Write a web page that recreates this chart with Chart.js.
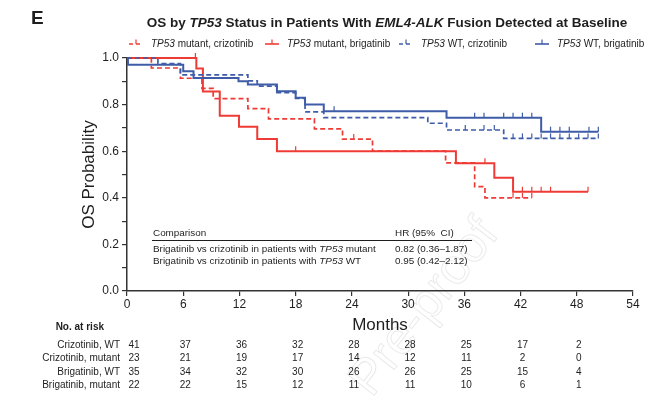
<!DOCTYPE html>
<html>
<head>
<meta charset="utf-8">
<script src="https://cdn.jsdelivr.net/npm/chart.js@4.4.1/dist/chart.umd.min.js"></script>
<style>
  html, body { margin: 0; padding: 0; background: #fff; }
  canvas { display: block; }
</style>
</head>
<body>
<canvas id="km" width="656" height="398"></canvas>
<script>
// KM step data: month of each step and survival after it
const crizWtTimes = [0, 3.3, 5.7, 12.9, 13.9, 16.0, 18.0, 19.0, 21.0, 32.1, 34.1, 40.2, 50.3];
const crizWtSurv  = [1.0, 0.976, 0.928, 0.902, 0.879, 0.851, 0.827, 0.769, 0.744, 0.720, 0.691, 0.655, 0.655];
const crizWtCens  = [36.1, 38.1, 39.2, 41.2, 42.2, 43.2, 44.2, 45.2, 46.2, 47.2, 48.2, 49.2, 50.3];

const brigWtTimes = [0, 0.1, 6.0, 7.1, 11.9, 12.9, 16.0, 18.0, 19.0, 21.0, 34.1, 44.2, 50.3];
const brigWtSurv  = [1.0, 0.971, 0.943, 0.914, 0.900, 0.886, 0.857, 0.829, 0.800, 0.771, 0.744, 0.684, 0.684];
const brigWtCens  = [22.1, 37.1, 38.1, 40.2, 41.2, 42.2, 43.2, 45.2, 46.2, 47.2, 49.3, 50.3];

const crizMutTimes = [0, 2.6, 5.7, 8.0, 9.2, 12.9, 15.1, 20.0, 23.0, 26.2, 34.0, 37.1, 38.2, 43.2];
const crizMutSurv  = [1.0, 0.957, 0.913, 0.870, 0.826, 0.783, 0.739, 0.696, 0.652, 0.600, 0.550, 0.448, 0.400, 0.400];
const crizMutCens  = [24.2, 41.2, 42.2, 43.2];

const brigMutTimes = [0, 7.4, 8.1, 9.9, 11.95, 13.9, 16.0, 35.1, 39.2, 41.2, 49.2];
const brigMutSurv  = [1.0, 0.955, 0.856, 0.752, 0.705, 0.652, 0.600, 0.548, 0.486, 0.426, 0.426];
const brigMutCens  = [7.3, 18.0, 38.2, 42.2, 43.2, 44.2, 45.2, 49.2];

// number at risk
const riskMonths = [0, 6, 12, 18, 24, 30, 36, 42, 48];
const riskLabels = ["Crizotinib, WT", "Crizotinib, mutant", "Brigatinib, WT", "Brigatinib, mutant"];
const riskCrizWt  = [41, 37, 36, 32, 28, 28, 25, 17, 2];
const riskCrizMut = [23, 21, 19, 17, 14, 12, 11, 2, 0];
const riskBrigWt  = [35, 34, 32, 30, 26, 26, 25, 15, 4];
const riskBrigMut = [22, 22, 15, 12, 11, 11, 10, 6, 1];

// hazard ratio inset (*...* = italic)
const hrRows = ["Brigatinib vs crizotinib in patients with *TP53* mutant", "Brigatinib vs crizotinib in patients with *TP53* WT"];
const hrValues = ["0.82 (0.36\u20131.87)", "0.95 (0.42\u20132.12)"];

const legendLabels = ["*TP53* mutant, crizotinib", "*TP53* mutant, brigatinib", "*TP53* WT, crizotinib", "*TP53* WT, brigatinib"];
const xTicks = [0, 6, 12, 18, 24, 30, 36, 42, 48, 54];

const RED = "#ee3b35";
const BLUE = "#3f5ca8";
const INK = "#1e1e1e";
const FONT = "'Liberation Sans', Arial, sans-serif";

function pts(times, surv) {
  return times.map((t, i) => ({ x: t, y: surv[i] }));
}
function valueAt(times, surv, t) {
  let v = surv[0];
  for (let i = 0; i < times.length; i++) if (times[i] <= t) v = surv[i];
  return v;
}
function censPts(cens, times, surv) {
  return cens.map(t => ({ x: t, y: valueAt(times, surv, t) }));
}

// draw text with *italic* parts
function rich(ctx, str, x, y, size, weight, align, color) {
  const parts = str.split("*");
  const f = i => (i % 2 ? "italic " : "") + (weight || "normal") + " " + size + "px " + FONT;
  let w = 0;
  parts.forEach((p, i) => { ctx.font = f(i); w += ctx.measureText(p).width; });
  let cx = align === "center" ? x - w / 2 : align === "right" ? x - w : x;
  ctx.textAlign = "left";
  ctx.textBaseline = "middle";
  ctx.fillStyle = color || INK;
  parts.forEach((p, i) => { ctx.font = f(i); ctx.fillText(p, cx, y); cx += ctx.measureText(p).width; });
}

const lineDs = (label, times, surv, color, dashed) => ({
  label: label,
  data: pts(times, surv),
  borderColor: color,
  borderWidth: dashed ? 1.7 : 2,
  borderDash: dashed ? [5, 3] : [],
  stepped: "before", // horizontal first, then drop
  pointRadius: 0,
  fill: false,
  clip: false
});
const censDs = (cens, times, surv, color) => ({
  data: censPts(cens, times, surv),
  showLine: false,
  pointStyle: "dash",
  rotation: -90,
  pointRadius: 5,
  pointBorderColor: color,
  pointBorderWidth: 1.2,
  clip: false
});

const extras = {
  id: "extras",
  beforeDraw(chart) {
    const ctx = chart.ctx;
    ctx.save();
    // faint watermark
    ctx.translate(425, 308);
    ctx.rotate(-52 * Math.PI / 180);
    ctx.font = "50px " + FONT;
    ctx.textAlign = "center";
    ctx.textBaseline = "middle";
    ctx.strokeStyle = "rgba(0,0,0,0.09)";
    ctx.lineWidth = 1;
    ctx.strokeText("Pre-proof", 0, 0);
    ctx.restore();
  },
  afterDraw(chart) {
    const ctx = chart.ctx;
    const xs = chart.scales.x;
    const area = chart.chartArea;
    ctx.save();

    // panel letter and title
    rich(ctx, "E", 31, 19, 19, "bold", "left");
    rich(ctx, "OS by *TP53* Status in Patients With *EML4-ALK* Fusion Detected at Baseline", 387, 23, 13.5, "bold", "center");

    // legend
    const sampleX = [129, 265, 399, 535];
    const textX = [151, 287, 421, 557];
    const cols = [RED, RED, BLUE, BLUE];
    const dash = [true, false, true, false];
    const ly = 44;
    for (let i = 0; i < 4; i++) {
      ctx.strokeStyle = cols[i];
      ctx.lineWidth = 1.6;
      ctx.setLineDash(dash[i] ? [4, 3] : []);
      ctx.beginPath();
      ctx.moveTo(sampleX[i], ly);
      ctx.lineTo(sampleX[i] + 14, ly);
      ctx.stroke();
      ctx.setLineDash([]);
      ctx.lineWidth = 1.2;
      ctx.beginPath();
      ctx.moveTo(sampleX[i] + 7, ly);
      ctx.lineTo(sampleX[i] + 7, ly - 4.5);
      ctx.stroke();
      rich(ctx, legendLabels[i], textX[i], ly, 10, "normal", "left");
    }

    // axis titles
    ctx.save();
    ctx.translate(89, (area.top + area.bottom) / 2);
    ctx.rotate(-Math.PI / 2);
    rich(ctx, "OS Probability", 0, 0, 17, "normal", "center");
    ctx.restore();
    rich(ctx, "Months", xs.getPixelForValue(27), 325, 17, "normal", "center");

    // HR inset
    rich(ctx, "Comparison", 153, 233, 9.9, "normal", "left");
    rich(ctx, "HR (95%  CI)", 395, 233, 9.9, "normal", "left");
    ctx.strokeStyle = INK;
    ctx.lineWidth = 1;
    ctx.beginPath();
    ctx.moveTo(152, 240.5);
    ctx.lineTo(472, 240.5);
    ctx.stroke();
    hrRows.forEach((r, i) => {
      rich(ctx, r, 153, 249 + i * 12.5, 9.9, "normal", "left");
      rich(ctx, hrValues[i], 395, 249 + i * 12.5, 9.9, "normal", "left");
    });

    // number at risk table
    rich(ctx, "No. at risk", 104, 327, 10, "bold", "right");
    const rows = [riskCrizWt, riskCrizMut, riskBrigWt, riskBrigMut];
    rows.forEach((vals, r) => {
      const y = 345 + r * 13.4;
      rich(ctx, riskLabels[r], 120, y, 10, "normal", "right");
      vals.forEach((v, c) => {
        const px = xs.getPixelForValue(riskMonths[c]) + (c === 0 ? 7 : 2);
        rich(ctx, String(v), px, y, 10, "normal", "center");
      });
    });
    ctx.restore();
  }
};

new Chart(document.getElementById("km"), {
  type: "line",
  data: {
    datasets: [
      lineDs("TP53 WT, crizotinib", crizWtTimes, crizWtSurv, BLUE, true),
      lineDs("TP53 WT, brigatinib", brigWtTimes, brigWtSurv, BLUE, false),
      lineDs("TP53 mutant, crizotinib", crizMutTimes, crizMutSurv, RED, true),
      lineDs("TP53 mutant, brigatinib", brigMutTimes, brigMutSurv, RED, false),
      censDs(crizWtCens, crizWtTimes, crizWtSurv, BLUE),
      censDs(brigWtCens, brigWtTimes, brigWtSurv, BLUE),
      censDs(crizMutCens, crizMutTimes, crizMutSurv, RED),
      censDs(brigMutCens, brigMutTimes, brigMutSurv, RED)
    ]
  },
  options: {
    responsive: false,
    devicePixelRatio: 1,
    animation: false,
    layout: { padding: { left: 0, right: 23, top: 58, bottom: 0 } },
    plugins: { legend: { display: false }, tooltip: { enabled: false }, title: { display: false } },
    scales: {
      x: {
        type: "linear",
        min: 0,
        max: 54,
        afterBuildTicks: s => { s.ticks = xTicks.map(v => ({ value: v })); },
        ticks: { font: { family: FONT, size: 12 }, color: INK, padding: 1, maxRotation: 0 },
        grid: { drawOnChartArea: false, drawTicks: true, tickLength: 5, color: "#333", lineWidth: 1.2 },
        border: { display: true, color: "#333", width: 1.5 },
        afterFit: s => { s.height = 107; }
      },
      y: {
        type: "linear",
        min: 0,
        max: 1,
        ticks: {
          stepSize: 0.1,
          font: { family: FONT, size: 12 },
          color: INK,
          padding: 3,
          callback: v => (Math.round(v * 10) % 2 === 0 ? v.toFixed(1) : "")
        },
        grid: { drawOnChartArea: false, drawTicks: true, tickLength: 5, color: "#333", lineWidth: 1.2 },
        border: { display: true, color: "#333", width: 1.5 },
        afterFit: s => { s.width = 127; }
      }
    }
  },
  plugins: [extras]
});
</script>
</body>
</html>
